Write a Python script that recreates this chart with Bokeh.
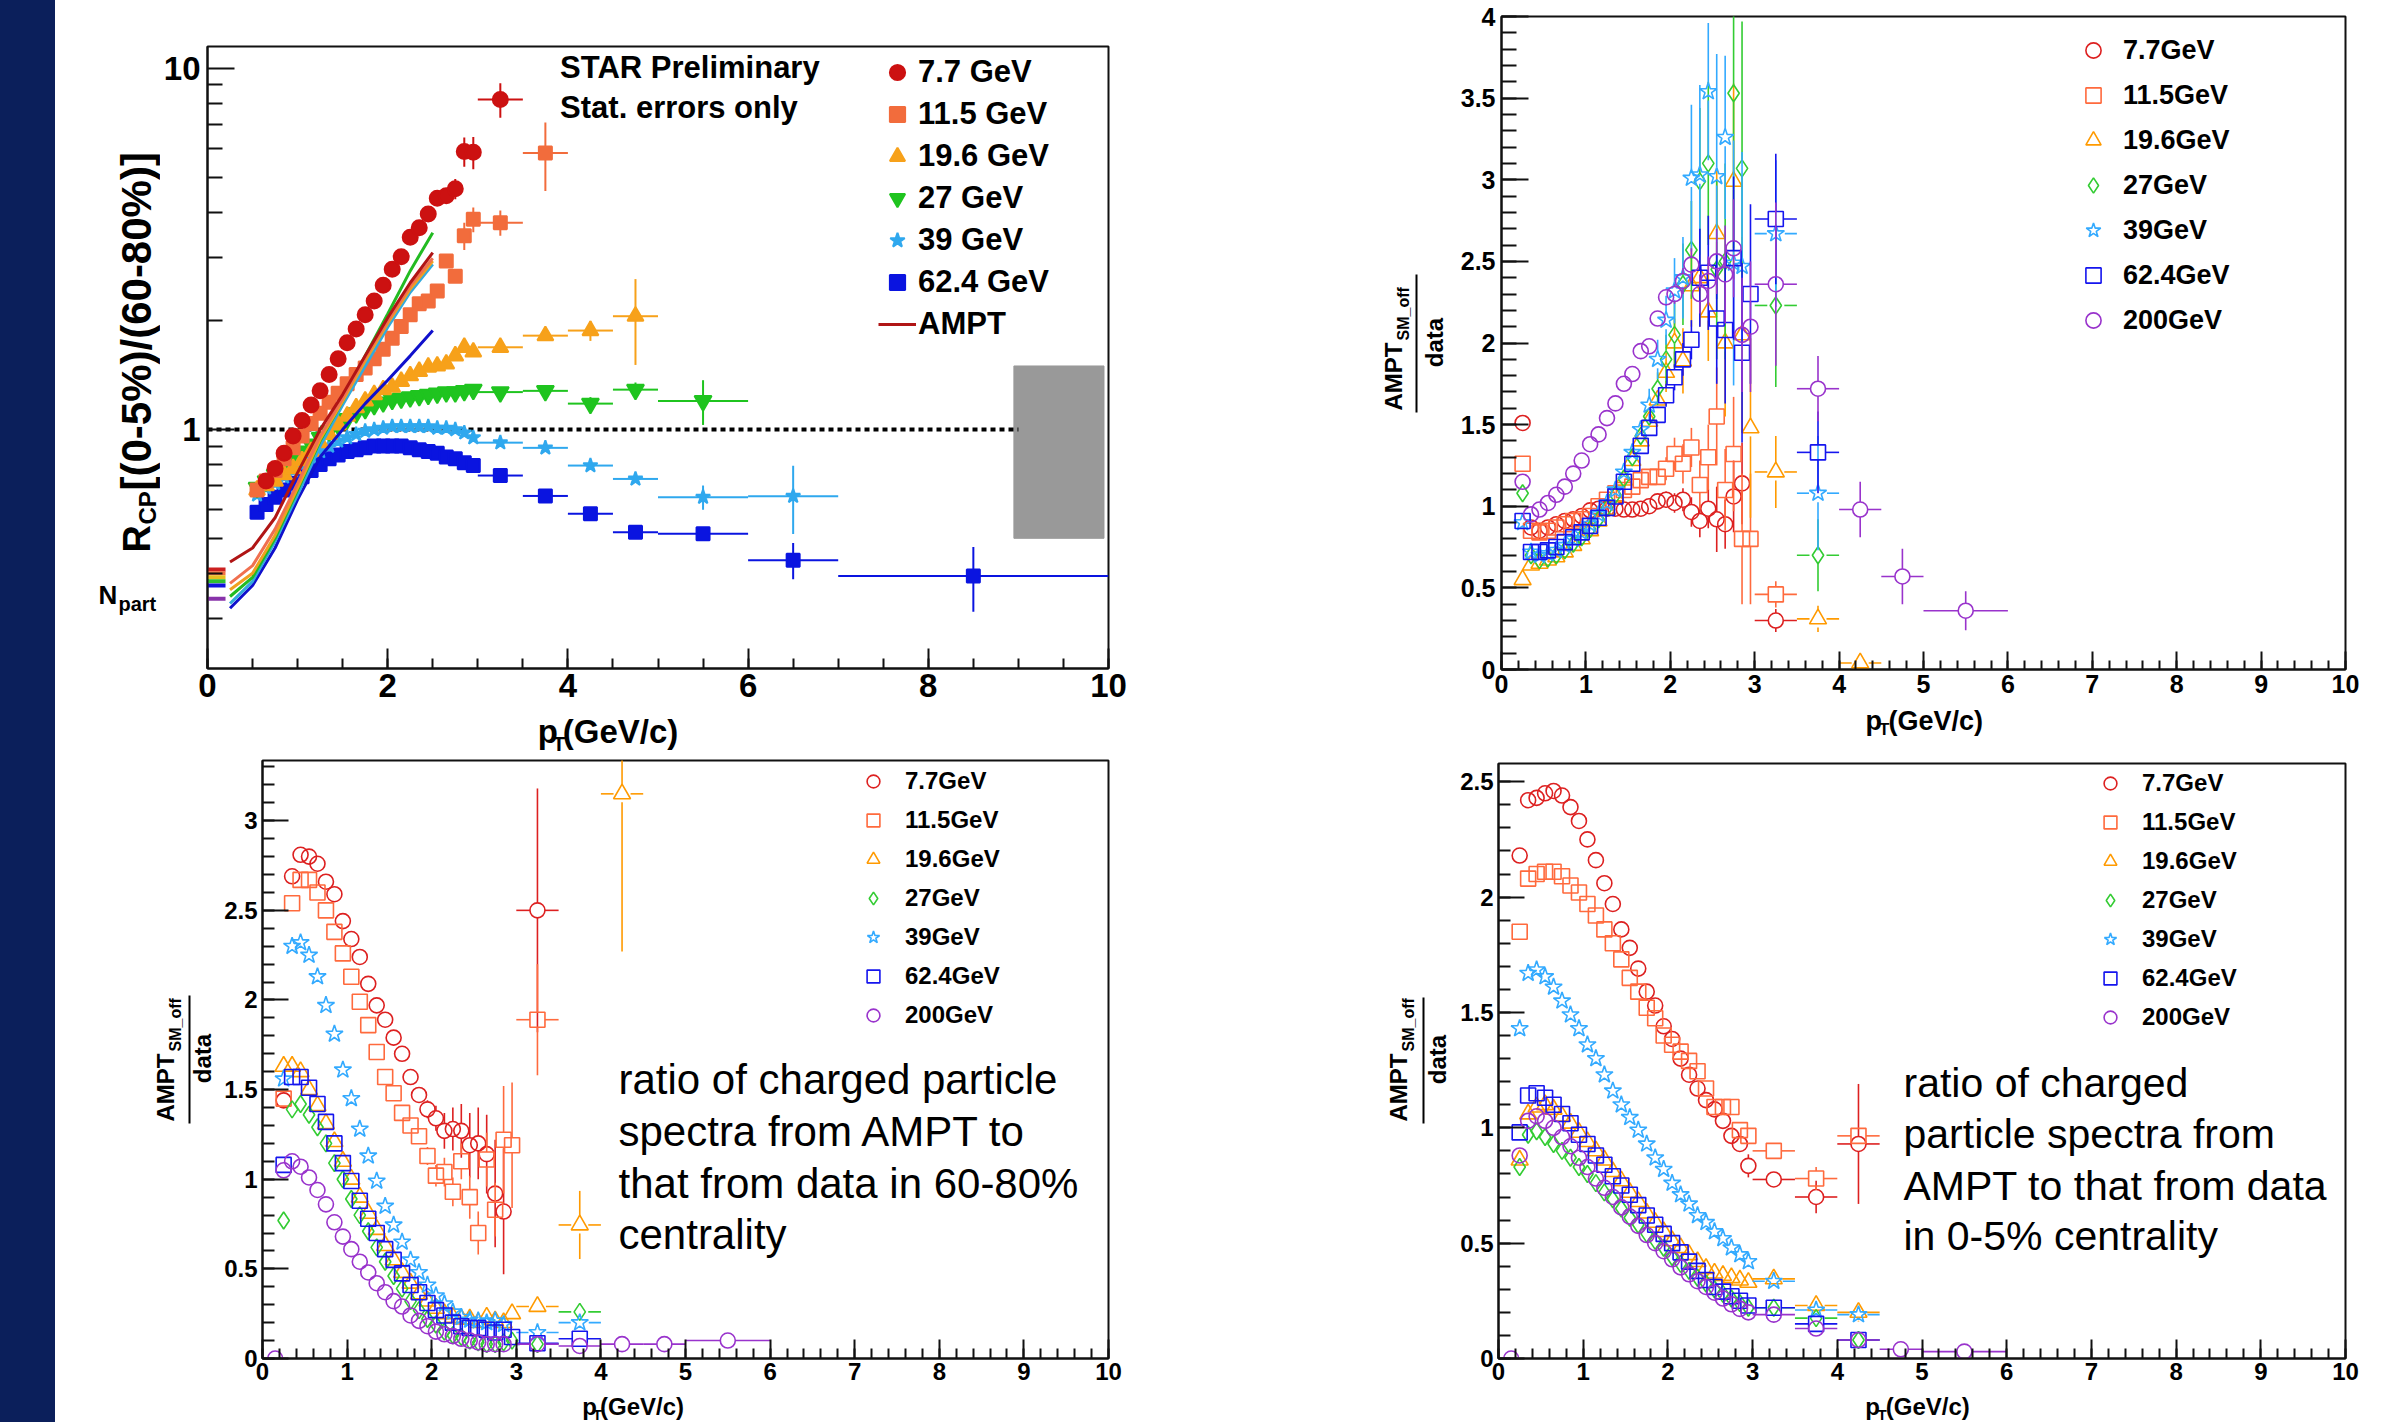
import math
from bokeh.plotting import figure
from bokeh.models import (Range1d, FixedTicker, CustomJSTickFormatter, Label,
                          Legend, LegendItem, Div)
from bokeh.layouts import row, column
from bokeh.embed import file_html
from bokeh.resources import INLINE
from bokeh.core.properties import value

FONT = "Liberation Sans"

# ------------------------------------------------------------------ data
PT_FINE = [0.25, 0.35, 0.45, 0.55, 0.65, 0.75, 0.85, 0.95, 1.05, 1.15, 1.25, 1.35,
           1.45, 1.55, 1.65, 1.75, 1.85, 1.95, 2.05, 2.15, 2.25, 2.35, 2.45, 2.55,
           2.65, 2.75, 2.85, 2.95]
PT1_FINE = PT_FINE[3:]            # 0.55 ... 2.95 (R_CP panel)
HALF_WIDTH = {3.25: 0.25, 3.75: 0.25, 4.25: 0.25, 4.75: 0.25, 5.5: 0.5, 6.5: 0.5, 8.5: 1.5}

RCP_LABELS = ["7.7 GeV", "11.5 GeV", "19.6 GeV", "27 GeV", "39 GeV", "62.4 GeV", "AMPT"]
RATIO_LABELS = ["7.7GeV", "11.5GeV", "19.6GeV", "27GeV", "39GeV", "62.4GeV", "200GeV"]

# ---- panel 1 : R_CP (0-5%)/(60-80%)
P1_77_X = PT1_FINE[1:] + [3.25]
P1_77_Y = [0.72, 0.78, 0.86, 0.96, 1.06, 1.17, 1.28, 1.42, 1.57, 1.74, 1.90, 2.08, 2.27,
           2.51, 2.78, 3.01, 3.41, 3.62, 3.95, 4.37, 4.44, 4.64, 5.89, 5.86, 8.2]
P1_77_E = {2.55: 0.1, 2.65: 0.12, 2.75: 0.3, 2.85: 0.55, 2.95: 0.6, 3.25: 0.9}

P1_115_X = PT1_FINE + [3.25, 3.75]
P1_115_Y = [0.68, 0.72, 0.77, 0.83, 0.89, 0.96, 1.04, 1.11, 1.19, 1.26, 1.34, 1.42, 1.48,
            1.57, 1.67, 1.79, 1.93, 2.08, 2.23, 2.27, 2.42, 2.93, 2.66, 3.44, 3.82, 3.74, 5.83]
P1_115_E = {2.85: 0.3, 2.95: 0.3, 3.25: 0.3, 3.75: 1.25}

P1_196_X = PT1_FINE + [3.25, 3.75, 4.25, 4.75]
P1_196_Y = [0.68, 0.70, 0.72, 0.75, 0.78, 0.82, 0.87, 0.92, 0.97, 1.03, 1.09, 1.15, 1.20,
            1.25, 1.29, 1.31, 1.36, 1.41, 1.45, 1.49, 1.50, 1.52, 1.60, 1.69, 1.64,
            1.69, 1.82, 1.88, 2.06]
P1_196_E = {4.25: 0.12, 4.75: 0.55}

P1_27_X = PT1_FINE + [3.25, 3.75, 4.25, 4.75, 5.5]
P1_27_Y = [0.69, 0.72, 0.75, 0.79, 0.83, 0.87, 0.91, 0.95, 0.99, 1.03, 1.07, 1.11, 1.14,
           1.17, 1.19, 1.21, 1.22, 1.23, 1.24, 1.25, 1.26, 1.27, 1.27, 1.28, 1.29,
           1.27, 1.28, 1.18, 1.29, 1.20]
P1_27_E = {4.25: 0.05, 4.75: 0.06, 5.5: 0.17}

P1_39_X = PT1_FINE + [3.25, 3.75, 4.25, 4.75, 5.5, 6.5]
P1_39_Y = [0.66, 0.69, 0.71, 0.74, 0.77, 0.80, 0.84, 0.87, 0.90, 0.93, 0.95, 0.97, 0.99,
           1.0, 1.01, 1.02, 1.02, 1.02, 1.02, 1.02, 1.01, 1.01, 1.0, 0.98, 0.95,
           0.92, 0.89, 0.795, 0.73, 0.65, 0.654]
P1_39_E = {5.5: 0.05, 6.5: 0.14}

P1_624_X = PT1_FINE + [3.25, 3.75, 4.25, 4.75, 5.5, 6.5, 8.5]
P1_624_Y = [0.59, 0.62, 0.65, 0.68, 0.71, 0.74, 0.77, 0.80, 0.83, 0.85, 0.87, 0.88, 0.89,
            0.90, 0.90, 0.90, 0.90, 0.89, 0.88, 0.87, 0.86, 0.84, 0.83, 0.81, 0.795,
            0.746, 0.655, 0.585, 0.52, 0.515, 0.435, 0.393]
P1_624_E = {6.5: 0.05, 8.5: 0.08}

AMPT_PT = [0.25, 0.5, 0.75, 1.0, 1.25, 1.5, 1.75, 2.0, 2.25, 2.5]
AMPT_77 = [0.43, 0.47, 0.57, 0.76, 1.0, 1.25, 1.6, 2.04, 2.55, 3.09]
AMPT_115 = [0.375, 0.42, 0.53, 0.71, 0.96, 1.22, 1.58, 2.0, 2.5, 2.98]
AMPT_196 = [0.36, 0.40, 0.51, 0.69, 0.94, 1.2, 1.55, 1.97, 2.45, 2.93]
AMPT_27 = [0.345, 0.39, 0.50, 0.68, 0.93, 1.2, 1.6, 2.09, 2.75, 3.51]
AMPT_39 = [0.33, 0.38, 0.49, 0.66, 0.90, 1.17, 1.5, 1.92, 2.4, 2.87]
AMPT_624 = [0.32, 0.37, 0.47, 0.64, 0.84, 1.0, 1.18, 1.37, 1.6, 1.88]

NPART_PT = [0.0, 0.2]
NPART_LEVELS = [0.41, 0.40, 0.39, 0.38, 0.37, 0.34]
SYS_BOX_PT = [8.95, 9.95]
SYS_BOX_R = [0.5, 1.5]
UNITY_PT = [0.0, 9.0]
UNITY_R = [1.0, 1.0]

# ---- panel 2 : AMPT / data (top right)
P2_77_X = PT_FINE[:27] + [3.25]
P2_77_Y = [1.51, 0.87, 0.85, 0.87, 0.89, 0.91, 0.92, 0.94, 0.975, 0.985, 0.985, 0.985, 0.98,
           0.98, 0.985, 1.0, 1.03, 1.04, 1.02, 1.04, 0.965, 0.91, 0.985, 0.92, 0.89, 1.06,
           1.14, 0.30]
P2_77_E = {0.25: 0.03, 1.75: 0.03, 1.85: 0.04, 1.95: 0.05, 2.05: 0.06, 2.15: 0.07, 2.25: 0.09,
           2.35: 0.1, 2.45: 0.12, 2.55: 0.2, 2.65: 0.15, 2.75: 0.22, 2.85: 0.25, 3.25: 0.07}

P2_115_X = PT_FINE + [3.25]
P2_115_Y = [1.26, 0.85, 0.84, 0.85, 0.87, 0.89, 0.91, 0.92, 0.94, 1.0, 1.04, 1.08, 1.10, 1.12,
            1.16, 1.18, 1.18, 1.23, 1.32, 1.26, 1.36, 1.13, 1.30, 1.55, 1.10, 1.32, 0.80, 0.80,
            0.46]
P2_115_E = {1.85: 0.05, 1.95: 0.07, 2.05: 0.1, 2.15: 0.12, 2.25: 0.12, 2.35: 0.15, 2.45: 0.2,
            2.55: 0.3, 2.65: 0.25, 2.75: 0.35, 2.85: 0.4, 2.95: 0.4, 3.25: 0.08}

P2_196_X = PT_FINE + [3.25, 3.75, 4.25]
P2_196_Y = [0.55, 0.64, 0.65, 0.67, 0.69, 0.72, 0.76, 0.80, 0.85, 0.91, 0.98, 1.06, 1.16, 1.28,
            1.40, 1.52, 1.65, 1.82, 2.0, 1.89, 2.35, 2.40, 2.19, 2.67, 2.0, 2.99, 2.05, 1.48,
            1.21, 0.31, 0.04]
P2_196_E = {1.95: 0.12, 2.05: 0.15, 2.15: 0.2, 2.25: 0.25, 2.35: 0.3, 2.45: 0.3, 2.55: 0.4,
            2.65: 0.45, 2.75: 0.6, 2.85: 0.6, 2.95: 0.55, 3.25: 0.22, 3.75: 0.08, 4.25: 0.04}

P2_27_X = PT_FINE[:27] + [3.25, 3.75]
P2_27_Y = [1.08, 0.70, 0.67, 0.68, 0.70, 0.73, 0.77, 0.81, 0.86, 0.92, 0.99, 1.07, 1.17, 1.30,
           1.43, 1.55, 1.72, 1.90, 2.05, 2.36, 2.57, 2.99, 3.10, 2.45, 2.50, 3.53, 3.07, 2.23,
           0.70]
P2_27_E = {1.85: 0.1, 1.95: 0.15, 2.05: 0.2, 2.15: 0.25, 2.25: 0.3, 2.35: 0.45, 2.45: 0.5,
           2.55: 0.55, 2.65: 0.6, 2.75: 0.95, 2.85: 0.9, 3.25: 0.5, 3.75: 0.22}

P2_39_X = PT_FINE[:27] + [3.25, 3.75]
P2_39_Y = [0.90, 0.72, 0.70, 0.71, 0.73, 0.76, 0.80, 0.84, 0.89, 0.95, 1.02, 1.10, 1.21, 1.33,
           1.47, 1.62, 1.90, 2.14, 2.32, 2.40, 3.01, 3.03, 3.54, 3.02, 3.26, 2.49, 2.47, 2.67,
           1.08]
P2_39_E = {1.75: 0.1, 1.85: 0.12, 1.95: 0.15, 2.05: 0.2, 2.15: 0.25, 2.25: 0.45, 2.35: 0.55,
           2.45: 0.42, 2.55: 0.75, 2.65: 0.5, 2.75: 0.75, 2.85: 0.7, 3.25: 0.45, 3.75: 0.35}

P2_624_X = PT_FINE + [3.25, 3.75]
P2_624_Y = [0.91, 0.72, 0.72, 0.73, 0.75, 0.78, 0.81, 0.84, 0.88, 0.93, 0.99, 1.06, 1.15, 1.26,
            1.37, 1.48, 1.56, 1.68, 1.79, 1.90, 2.02, 2.40, 2.43, 2.15, 2.08, 2.52, 1.94, 2.30,
            2.76, 1.33]
P2_624_E = {1.85: 0.05, 1.95: 0.07, 2.05: 0.08, 2.15: 0.1, 2.25: 0.12, 2.35: 0.3, 2.45: 0.35,
            2.55: 0.4, 2.65: 0.45, 2.75: 0.5, 2.85: 0.55, 2.95: 0.55, 3.25: 0.4, 3.75: 0.25}

P2_200_X = PT_FINE + [3.25, 3.75, 4.25, 4.75, 5.5]
P2_200_Y = [1.15, 0.95, 0.98, 1.02, 1.07, 1.12, 1.20, 1.28, 1.38, 1.44, 1.54, 1.63, 1.75, 1.81,
            1.95, 1.98, 2.15, 2.28, 2.30, 2.38, 2.48, 2.30, 2.38, 2.50, 2.42, 2.58, 2.05, 2.10,
            2.36, 1.72, 0.98, 0.57, 0.36]
P2_200_E = {1.95: 0.05, 2.05: 0.06, 2.15: 0.08, 2.25: 0.1, 2.35: 0.12, 2.45: 0.15, 2.55: 0.2,
            2.65: 0.3, 2.75: 0.3, 2.85: 0.35, 2.95: 0.4, 3.25: 0.5, 3.75: 0.2, 4.25: 0.17,
            4.75: 0.17, 5.5: 0.12}

# ---- panel 3 : AMPT / data, 60-80%
P3_77_X = PT_FINE[:27] + [3.25]
P3_77_Y = [1.44, 2.69, 2.81, 2.80, 2.76, 2.66, 2.59, 2.44, 2.34, 2.24, 2.09, 1.97, 1.89, 1.79,
           1.70, 1.57, 1.47, 1.39, 1.34, 1.27, 1.28, 1.27, 1.19, 1.20, 1.14, 0.92, 0.82, 2.50]
P3_77_E = {1.65: 0.02, 1.75: 0.03, 1.85: 0.04, 1.95: 0.05, 2.05: 0.07, 2.15: 0.1, 2.25: 0.12,
           2.35: 0.15, 2.45: 0.18, 2.55: 0.2, 2.65: 0.22, 2.75: 0.3, 2.85: 0.35, 3.25: 0.68}

P3_115_X = PT_FINE + [3.25]
P3_115_Y = [1.45, 2.54, 2.67, 2.67, 2.60, 2.50, 2.38, 2.26, 2.13, 1.99, 1.86, 1.71, 1.57, 1.48,
            1.37, 1.30, 1.24, 1.13, 1.02, 1.04, 0.93, 1.10, 0.90, 0.70, 1.11, 0.83, 1.22, 1.19,
            1.89]
P3_115_E = {1.95: 0.05, 2.05: 0.06, 2.15: 0.08, 2.25: 0.08, 2.35: 0.1, 2.45: 0.12, 2.55: 0.12,
            2.65: 0.15, 2.75: 0.15, 2.85: 0.3, 2.95: 0.35, 3.25: 0.31}

P3_196_X = PT_FINE + [3.25, 3.75, 4.25]
P3_196_Y = [1.63, 1.63, 1.60, 1.50, 1.41, 1.31, 1.21, 1.10, 1.00, 0.90, 0.81, 0.72, 0.63, 0.55,
            0.48, 0.42, 0.36, 0.32, 0.28, 0.25, 0.23, 0.22, 0.22, 0.20, 0.23, 0.21, 0.20, 0.25,
            0.29, 0.745, 3.15]
P3_196_E = {3.25: 0.03, 3.75: 0.19, 4.25: 0.88}

P3_27_X = PT_FINE + [3.25, 3.75]
P3_27_Y = [0.77, 1.39, 1.42, 1.36, 1.29, 1.20, 1.09, 1.00, 0.89, 0.80, 0.71, 0.62, 0.54, 0.46,
           0.39, 0.32, 0.27, 0.22, 0.19, 0.15, 0.13, 0.12, 0.10, 0.09, 0.08, 0.08, 0.09, 0.10,
           0.08, 0.26]
P3_27_E = {3.75: 0.05}

P3_39_X = PT_FINE[:27] + [3.25, 3.75]
P3_39_Y = [1.56, 2.30, 2.32, 2.25, 2.13, 1.97, 1.81, 1.61, 1.45, 1.28, 1.13, 0.99, 0.85, 0.745,
           0.65, 0.55, 0.48, 0.41, 0.35, 0.305, 0.26, 0.23, 0.215, 0.21, 0.20, 0.21, 0.19,
           0.145, 0.20]
P3_39_E = {3.75: 0.05}

P3_624_X = PT_FINE + [3.25, 3.75]
P3_624_Y = [1.08, 1.57, 1.57, 1.51, 1.42, 1.32, 1.20, 1.09, 0.99, 0.88, 0.78, 0.70, 0.61, 0.55,
            0.475, 0.41, 0.37, 0.31, 0.27, 0.24, 0.20, 0.18, 0.17, 0.17, 0.16, 0.145, 0.16, 0.12,
            0.085, 0.11]
P3_624_E = {}

P3_200_X = [0.15] + PT_FINE[:27] + [3.25, 3.75, 4.25, 4.75, 5.5]
P3_200_Y = [0.0, 1.05, 1.10, 1.07, 1.01, 0.94, 0.86, 0.76, 0.68, 0.61, 0.54, 0.48, 0.42, 0.37,
            0.32, 0.29, 0.24, 0.21, 0.18, 0.15, 0.135, 0.125, 0.11, 0.10, 0.09, 0.08, 0.08, 0.08,
            0.08, 0.07, 0.08, 0.08, 0.10]
P3_200_E = {}

# ---- panel 4 : AMPT / data, 0-5%
P4_77_X = PT_FINE + [3.25, 3.75, 4.25]
P4_77_Y = [2.18, 2.42, 2.43, 2.45, 2.46, 2.44, 2.39, 2.33, 2.25, 2.16, 2.06, 1.97, 1.86, 1.78,
           1.69, 1.59, 1.53, 1.44, 1.385, 1.30, 1.23, 1.17, 1.12, 1.08, 1.03, 0.965, 0.93, 0.835,
           0.776, 0.70, 0.93]
P4_77_E = {2.85: 0.03, 2.95: 0.05, 3.25: 0.03, 3.75: 0.07, 4.25: 0.26}

P4_115_X = PT_FINE + [3.25, 3.75, 4.25]
P4_115_Y = [1.85, 2.08, 2.10, 2.11, 2.11, 2.09, 2.05, 2.02, 1.97, 1.92, 1.86, 1.80, 1.73, 1.65,
            1.59, 1.52, 1.475, 1.40, 1.36, 1.33, 1.29, 1.245, 1.17, 1.09, 1.09, 1.09, 0.99, 0.965,
            0.90, 0.78, 0.965]
P4_115_E = {3.75: 0.05, 4.25: 0.03}

P4_196_X = PT_FINE + [3.25, 3.75, 4.25]
P4_196_Y = [0.86, 1.06, 1.09, 1.10, 1.08, 1.05, 1.02, 0.98, 0.94, 0.90, 0.86, 0.81, 0.77, 0.72,
            0.68, 0.63, 0.59, 0.55, 0.51, 0.48, 0.45, 0.42, 0.39, 0.37, 0.36, 0.35, 0.34, 0.33,
            0.345, 0.23, 0.20]
P4_196_E = {3.75: 0.03, 4.25: 0.04}

P4_27_X = PT_FINE + [3.25, 3.75, 4.25]
P4_27_Y = [0.83, 0.97, 0.985, 0.96, 0.93, 0.90, 0.87, 0.83, 0.80, 0.76, 0.72, 0.69, 0.65, 0.61,
           0.58, 0.54, 0.51, 0.48, 0.44, 0.41, 0.38, 0.35, 0.325, 0.30, 0.28, 0.26, 0.24, 0.22,
           0.22, 0.175, 0.08]
P4_27_E = {}

P4_39_X = PT_FINE + [3.25, 3.75, 4.25]
P4_39_Y = [1.43, 1.67, 1.685, 1.655, 1.61, 1.55, 1.49, 1.43, 1.36, 1.30, 1.23, 1.16, 1.10, 1.045,
           0.99, 0.93, 0.87, 0.82, 0.76, 0.71, 0.67, 0.62, 0.59, 0.55, 0.52, 0.48, 0.45, 0.42,
           0.335, 0.21, 0.19]
P4_39_E = {}

P4_624_X = PT_FINE + [3.25, 3.75, 4.25]
P4_624_Y = [0.98, 1.14, 1.15, 1.13, 1.10, 1.06, 1.02, 0.97, 0.93, 0.88, 0.84, 0.79, 0.75, 0.71,
            0.665, 0.62, 0.58, 0.54, 0.50, 0.46, 0.42, 0.38, 0.34, 0.31, 0.29, 0.27, 0.25, 0.23,
            0.22, 0.15, 0.08]
P4_624_E = {}

P4_200_X = [0.15] + PT_FINE + [3.25, 3.75, 4.25, 4.75, 5.5]
P4_200_Y = [0.0, 0.88, 1.03, 1.05, 1.03, 1.00, 0.96, 0.92, 0.87, 0.83, 0.78, 0.74, 0.70, 0.655,
            0.615, 0.575, 0.535, 0.50, 0.465, 0.43, 0.395, 0.365, 0.335, 0.31, 0.285, 0.26, 0.235,
            0.215, 0.20, 0.19, 0.13, 0.08, 0.04, 0.03]
P4_200_E = {}

# tick positions / labels
X_MAJOR_2 = [0, 2, 4, 6, 8, 10]
X_MAJOR_1 = [0, 1, 2, 3, 4, 5, 6, 7, 8, 9, 10]
Y_MAJOR_LOG = [1, 10]
Y_MINOR_LOG = [0.3, 0.4, 0.5, 0.6, 0.7, 0.8, 0.9, 2, 3, 4, 5, 6, 7, 8, 9]
Y_MAJOR_P2 = [0, 0.5, 1, 1.5, 2, 2.5, 3, 3.5, 4]
Y_MAJOR_P3 = [0, 0.5, 1, 1.5, 2, 2.5, 3]
Y_MAJOR_P4 = [0, 0.5, 1, 1.5, 2, 2.5]
X_MINOR_05 = [i * 0.5 for i in range(21)]
X_MINOR_02 = [round(i * 0.2, 2) for i in range(51)]
Y_MINOR_01 = [round(i * 0.1, 2) for i in range(41)]

# ------------------------------------------------------------------ styles
C_FILL = ["#cc1111", "#f26c3c", "#f7a11a", "#1fc41f", "#2fa8ee", "#0a14e0"]
C_AMPT = ["#b01515", "#f07050", "#f0a020", "#22bb22", "#33aadd", "#1010cc"]
C_NPART = ["#cc2020", "#f07040", "#e8c020", "#30c030", "#1010dd", "#8833aa"]
C_OPEN = ["#dd2020", "#ff6a3d", "#ff9a00", "#33cc33", "#33aaff", "#1515ee", "#9933cc"]
M_FILL = ["circle", "square", "triangle", "inverted_triangle", "star", "square"]
S_FILL = [15, 13, 16, 17, 15, 13]
M_OPEN = ["circle", "square", "triangle", "diamond", "star", "square", "circle"]
S_OPEN = [15, 15, 17, 17, 18, 15, 15]

# frame geometry in page pixels: left, right, top, bottom, x0, x1, y0, y1, log
G1 = (206, 1108, 46, 668, 0.0, 10.0, 0.218, 11.5, True)
G2 = (1501, 2345, 16, 669, 0.0, 10.0, 0.0, 4.0, False)
G3 = (262, 1108, 760, 1358, 0.0, 10.0, 0.0, 3.336, False)
G4 = (1498, 2345, 763, 1358, 0.0, 10.0, 0.0, 2.579, False)
ROW_SPLIT = 756      # page y where the lower row of panels starts


def to_data(g, px, py):
    fl, fr, ft, fb, x0, x1, y0, y1, lg = g
    x = x0 + (px - fl) / (fr - fl) * (x1 - x0)
    f = (fb - py) / (fb - ft)
    if lg:
        y = 10 ** (math.log10(y0) + f * (math.log10(y1) - math.log10(y0)))
    else:
        y = y0 + f * (y1 - y0)
    return x, y


def make_fig(g, left, top, w, h):
    fl, fr, ft, fb, x0, x1, y0, y1, lg = g
    p = figure(width=w, height=h, x_range=Range1d(x0, x1), y_range=Range1d(y0, y1),
               y_axis_type="log" if lg else "linear", output_backend="svg",
               toolbar_location=None,
               min_border_left=fl - left, min_border_right=w - (fr - left),
               min_border_top=ft - top, min_border_bottom=h - (fb - top))
    p.grid.visible = False
    p.outline_line_color = "#111111"
    p.outline_line_width = 2
    p.background_fill_color = "white"
    p.border_fill_color = "white"
    return p


def make_strip(left, top, w, h):
    s = figure(width=w, height=h, x_range=Range1d(left, left + w),
               y_range=Range1d(-(top + h), -top), output_backend="svg",
               toolbar_location=None, min_border=0,
               x_axis_location=None, y_axis_location=None)
    s.grid.visible = False
    s.outline_line_color = None
    s.background_fill_color = "white"
    s.border_fill_color = "white"
    return s


def stext(s, px, py, text, size, bold=True, angle=0.0, align="left"):
    """text centred (in its own reading frame) on page pixel (px, py)"""
    s.text(x=[px], y=[-py], text=[text], angle=angle, text_font=value(FONT),
           text_font_size=value(f"{size}px"),
           text_font_style="bold" if bold else "normal",
           text_align=align, text_baseline="middle", text_color="black")


def style_axis(ax, ticks, minor, major_in, minor_in, fs, standoff):
    ax.ticker = FixedTicker(ticks=ticks, minor_ticks=minor)
    ax.formatter = CustomJSTickFormatter(code="return String(Math.round(tick*1000)/1000);")
    ax.major_tick_in = major_in
    ax.major_tick_out = 0
    ax.minor_tick_in = minor_in
    ax.minor_tick_out = 0
    ax.major_tick_line_width = 2
    ax.minor_tick_line_width = 2
    ax.major_tick_line_color = "#111111"
    ax.minor_tick_line_color = "#111111"
    ax.axis_line_width = 2
    ax.axis_line_color = "#111111"
    ax.major_label_text_font = FONT
    ax.major_label_text_font_size = f"{fs}px"
    ax.major_label_text_font_style = "bold"
    ax.major_label_text_color = "black"
    ax.major_label_standoff = standoff


def put_label(p, g, px, py, text, size, bold=True):
    x, y = to_data(g, px, py)
    p.add_layout(Label(x=x, y=y, text=text, text_font=FONT, text_font_size=f"{size}px",
                       text_font_style="bold" if bold else "normal",
                       text_align="left", text_baseline="middle", text_color="black"))


def add_series(p, g, X, Y, E, marker, color, size, filled, lw=1.6):
    fl, fr, ft, fb, x0, x1, y0, y1, lg = g
    ppx = (fr - fl) / (x1 - x0)
    ppy = (fb - ft) / (y1 - y0)
    half = 0.0 if filled else size / 2.0
    sx0, sy0, sx1, sy1 = [], [], [], []
    for x, y in zip(X, Y):
        ey = E.get(x, 0.0)
        ex = HALF_WIDTH.get(x, 0.0)
        if ey > 0:
            if lg:
                sx0.append(x); sy0.append(max(y - ey, 1e-3)); sx1.append(x); sy1.append(y + ey)
            else:
                gy = half / ppy
                if ey > gy:
                    sx0 += [x, x]; sy0 += [y + gy, max(y - gy, 0.0)]
                    sx1 += [x, x]; sy1 += [y + ey, max(y - ey, 0.0)]
        if ex > 0:
            gx = half / ppx
            sx0 += [x + gx, x - gx]; sy0 += [y, y]
            sx1 += [x + ex, x - ex]; sy1 += [y, y]
    if sx0:
        p.segment(x0=sx0, y0=sy0, x1=sx1, y1=sy1, line_color=color, line_width=lw)
    return p.scatter(X, Y, marker=marker, size=size, line_color=color,
                     fill_color=color if filled else None, line_width=lw)


def add_legend(p, g, renderers, labels, glyph_left, legend_top, glyph, fs, standoff, spacing):
    fl, fr, ft, fb = g[:4]
    n = len(labels)
    height = n * glyph + (n - 1) * spacing
    items = [LegendItem(label=l, renderers=[r]) for l, r in zip(labels, renderers)]
    leg = Legend(items=items, location=(glyph_left - fl, fb - (legend_top + height)),
                 glyph_width=glyph, glyph_height=glyph, label_height=glyph,
                 label_text_font=FONT, label_text_font_size=f"{fs}px",
                 label_text_font_style="bold", label_text_color="black",
                 label_standoff=standoff, spacing=spacing, padding=0, margin=0,
                 border_line_color=None, background_fill_alpha=0)
    p.add_layout(leg)


def ratio_ytitle(s, xa, xl, xd, y_start, y_line_top, y_data):
    # "AMPT_{SM_off}" over "data", written bottom-to-top
    stext(s, xa, y_start, "AMPT", 24, angle=math.pi / 2)
    stext(s, xa + 10, y_start - 70, "SM_off", 16, angle=math.pi / 2)
    s.line([xl, xl], [-(y_start + 2), -y_line_top], line_color="black", line_width=2)
    stext(s, xd, y_data, "data", 24, angle=math.pi / 2, align="center")


def pt_title(s, x, yc, fs, fss):
    stext(s, x, yc, "p", fs)
    stext(s, x + 0.56 * fs, yc + 0.35 * fs, "T", fss)
    stext(s, x + 0.56 * fs + 0.62 * fss, yc, "(GeV/c)", fs)


# ------------------------------------------------------------------ panel 1
p1 = make_fig(G1, 160, 0, 1140, 712)
style_axis(p1.xaxis[0], X_MAJOR_2, X_MINOR_05, 20, 10, 33, 5)
style_axis(p1.yaxis[0], Y_MAJOR_LOG, Y_MINOR_LOG, 27, 15, 33, 7)

p1.quad(left=SYS_BOX_PT[0], right=SYS_BOX_PT[1], bottom=SYS_BOX_R[0], top=SYS_BOX_R[1],
        fill_color="#999999", line_color="#999999")
p1.line(UNITY_PT, UNITY_R, line_color="black", line_width=4, line_dash="5 4")
for lev, c in zip(NPART_LEVELS, C_NPART):
    p1.line(NPART_PT, [lev, lev], line_color=c, line_width=4)

p1_series = [(P1_77_X, P1_77_Y, P1_77_E), (P1_115_X, P1_115_Y, P1_115_E),
             (P1_196_X, P1_196_Y, P1_196_E), (P1_27_X, P1_27_Y, P1_27_E),
             (P1_39_X, P1_39_Y, P1_39_E), (P1_624_X, P1_624_Y, P1_624_E)]
r1 = [None] * 6
for i in reversed(range(6)):
    X, Y, E = p1_series[i]
    r1[i] = add_series(p1, G1, X, Y, E, M_FILL[i], C_FILL[i], S_FILL[i], True, lw=2)
ampt_r = None
for ys, c in zip([AMPT_624, AMPT_39, AMPT_27, AMPT_196, AMPT_115, AMPT_77], C_AMPT[::-1]):
    ampt_r = p1.line(AMPT_PT, ys, line_color=c, line_width=3)
add_legend(p1, G1, r1 + [ampt_r], RCP_LABELS, 877, 53, 38, 31, 2, 4)
put_label(p1, G1, 559, 67, "STAR Preliminary", 31)
put_label(p1, G1, 559, 107, "Stat. errors only", 31)

y1 = make_strip(55, 0, 105, ROW_SPLIT)
stext(y1, 136, 552, "R", 38, angle=math.pi / 2)
stext(y1, 147, 524, "CP", 24, angle=math.pi / 2)
stext(y1, 136, 490, "[(0-5%)/(60-80%)]", 42, angle=math.pi / 2)
stext(y1, 98, 594, "N", 26)
stext(y1, 118, 603, "part", 20)

x1 = make_strip(160, 712, 1140, ROW_SPLIT - 712)
pt_title(x1, 578, 731, 33, 21)

# ------------------------------------------------------------------ panel 2
p2 = make_fig(G2, 1457, 0, 939, 703)
style_axis(p2.xaxis[0], X_MAJOR_1, X_MINOR_02, 18, 9, 25, 5)
style_axis(p2.yaxis[0], Y_MAJOR_P2, Y_MINOR_01, 27, 15, 25, 6)
p2_series = [(P2_77_X, P2_77_Y, P2_77_E), (P2_115_X, P2_115_Y, P2_115_E),
             (P2_196_X, P2_196_Y, P2_196_E), (P2_27_X, P2_27_Y, P2_27_E),
             (P2_39_X, P2_39_Y, P2_39_E), (P2_624_X, P2_624_Y, P2_624_E),
             (P2_200_X, P2_200_Y, P2_200_E)]
r2 = [add_series(p2, G2, X, Y, E, M_OPEN[i], C_OPEN[i], S_OPEN[i], False)
      for i, (X, Y, E) in enumerate(p2_series)]
add_legend(p2, G2, r2, RATIO_LABELS, 2074, 31, 38, 27, 11, 7)

y2 = make_strip(1300, 0, 157, ROW_SPLIT)
ratio_ytitle(y2, 1393, 1416, 1434, 410, 274, 342)
x2 = make_strip(1457, 703, 939, ROW_SPLIT - 703)
pt_title(x2, 1862, 720, 27, 17)

# ------------------------------------------------------------------ panel 3
p3 = make_fig(G3, 218, ROW_SPLIT, 1082, 1391 - ROW_SPLIT)
style_axis(p3.xaxis[0], X_MAJOR_1, X_MINOR_02, 19, 10, 24, 4)
style_axis(p3.yaxis[0], Y_MAJOR_P3, Y_MINOR_01, 26, 12, 24, 5)
p3_series = [(P3_77_X, P3_77_Y, P3_77_E), (P3_115_X, P3_115_Y, P3_115_E),
             (P3_196_X, P3_196_Y, P3_196_E), (P3_27_X, P3_27_Y, P3_27_E),
             (P3_39_X, P3_39_Y, P3_39_E), (P3_624_X, P3_624_Y, P3_624_E),
             (P3_200_X, P3_200_Y, P3_200_E)]
r3 = [add_series(p3, G3, X, Y, E, M_OPEN[i], C_OPEN[i], S_OPEN[i], False)
      for i, (X, Y, E) in enumerate(p3_series)]
add_legend(p3, G3, r3, RATIO_LABELS, 857, 765, 32, 24, 16, 7)
for yc, line in zip([1079, 1131, 1183, 1234],
                    ["ratio of charged particle", "spectra from AMPT to",
                     "that from data in 60-80%", "centrality"]):
    put_label(p3, G3, 618, yc, line, 42, bold=False)

y3 = make_strip(55, ROW_SPLIT, 163, 1422 - ROW_SPLIT)
ratio_ytitle(y3, 165, 189, 202, 1121, 995, 1058)
x3 = make_strip(218, 1391, 1082, 31)
pt_title(x3, 627, 1406, 24, 15)

# ------------------------------------------------------------------ panel 4
p4 = make_fig(G4, 1454, ROW_SPLIT, 942, 1391 - ROW_SPLIT)
style_axis(p4.xaxis[0], X_MAJOR_1, X_MINOR_02, 19, 10, 24, 4)
style_axis(p4.yaxis[0], Y_MAJOR_P4, Y_MINOR_01, 26, 12, 24, 5)
p4_series = [(P4_77_X, P4_77_Y, P4_77_E), (P4_115_X, P4_115_Y, P4_115_E),
             (P4_196_X, P4_196_Y, P4_196_E), (P4_27_X, P4_27_Y, P4_27_E),
             (P4_39_X, P4_39_Y, P4_39_E), (P4_624_X, P4_624_Y, P4_624_E),
             (P4_200_X, P4_200_Y, P4_200_E)]
r4 = [add_series(p4, G4, X, Y, E, M_OPEN[i], C_OPEN[i], S_OPEN[i], False)
      for i, (X, Y, E) in enumerate(p4_series)]
add_legend(p4, G4, r4, RATIO_LABELS, 2094, 767, 32, 24, 16, 7)
for yc, line in zip([1082, 1133, 1185, 1235],
                    ["ratio of charged", "particle spectra from",
                     "AMPT to that from data", "in 0-5% centrality"]):
    put_label(p4, G4, 1903, yc, line, 41, bold=False)

y4 = make_strip(1300, ROW_SPLIT, 154, 1422 - ROW_SPLIT)
ratio_ytitle(y4, 1398, 1423, 1437, 1121, 997, 1059)
x4 = make_strip(1454, 1391, 942, 31)
pt_title(x4, 1862, 1406, 24, 15)

# ------------------------------------------------------------------ page
stripe = Div(text="", width=55, height=1422, margin=0,
             styles={"background-color": "#0b1f5b"})
left_col = column(row(y1, column(p1, x1)), row(y3, column(p3, x3)))
right_col = column(row(y2, column(p2, x2)), row(y4, column(p4, x4)))
layout = row(stripe, left_col, right_col)
open("out.html", "w").write(file_html(layout, INLINE, "AMPT RCP"))
